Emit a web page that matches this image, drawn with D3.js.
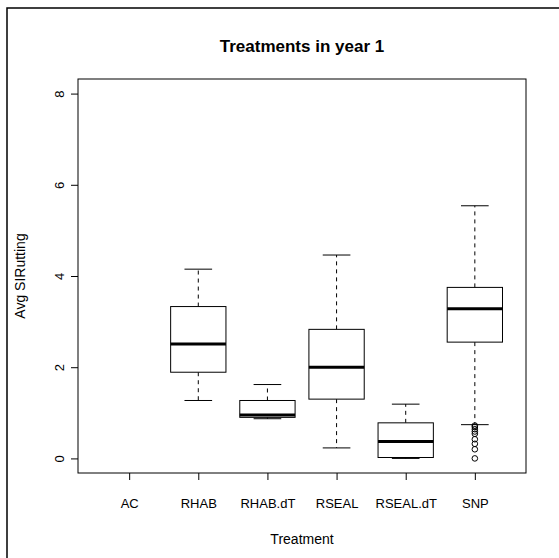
<!DOCTYPE html>
<html>
<head>
<meta charset="utf-8">
<script src="https://d3js.org/d3.v7.min.js"></script>
<style>
  body { margin: 0; background: #fff; }
  text { font-family: "Liberation Sans", Arial, sans-serif; fill: #000; }
</style>
</head>
<body>
<svg id="chart" width="559" height="558"></svg>
<script>
    // values
    const categories = ["AC", "RHAB", "RHAB.dT", "RSEAL", "RSEAL.dT", "SNP"];
    const whiskerLow  = [null, 1.27, 0.87, 0.23, 0.00, 0.74];
    const q1          = [null, 1.89, 0.90, 1.30, 0.02, 2.55];
    const median      = [null, 2.51, 0.95, 2.00, 0.37, 3.28];
    const q3          = [null, 3.33, 1.27, 2.83, 0.78, 3.75];
    const whiskerHigh = [null, 4.15, 1.62, 4.46, 1.19, 5.54];
    const outlierGroup = ["SNP", "SNP", "SNP", "SNP", "SNP", "SNP", "SNP", "SNP", "SNP"];
    const outlierValue = [0.72, 0.69, 0.64, 0.59, 0.54, 0.42, 0.32, 0.20, 0.00];
    const yTicks = [0, 2, 4, 6, 8];

    const LEFT = 78, RIGHT = 526, TOP = 79, BOTTOM = 473;

    const svg = d3.select("#chart");

    // outer frame (only top/left edges visible in the picture)
    svg.append("rect")
        .attr("x", 7).attr("y", 8)
        .attr("width", 600).attr("height", 600)
        .attr("fill", "none").attr("stroke", "#000").attr("stroke-width", 1.5);

    // R style: index 1..n with xlim (0.5, n+0.5) padded by 4%
    const n = categories.length;
    const pad = n * 0.04;
    const x = d3.scaleLinear().domain([0.5 - pad, n + 0.5 + pad]).range([LEFT, RIGHT]);
    const y = d3.scaleLinear().domain([-0.32, 8.32]).range([BOTTOM, TOP]);
    const xi = name => x(categories.indexOf(name) + 1);

    const boxW = (x(1.4) - x(0.6));
    const capW = boxW / 2;

    // axes
    const xAxis = svg.append("g")
        .attr("transform", `translate(0,${BOTTOM})`)
        .call(d3.axisBottom(x).tickValues(d3.range(1, n + 1)).tickFormat(d => categories[d - 1]).tickSize(7).tickPadding(0));
    xAxis.select(".domain").remove();
    xAxis.selectAll("line").attr("stroke", "#000");
    xAxis.selectAll("text")
        .attr("y", 34.5).attr("dy", null)
        .style("font-size", "13px").style("font-family", "Liberation Sans, Arial, sans-serif");

    const yAxis = svg.append("g")
        .attr("transform", `translate(${LEFT},0)`)
        .call(d3.axisLeft(y).tickValues(yTicks).tickSize(7));
    yAxis.select(".domain").remove();
    yAxis.selectAll("line").attr("stroke", "#000");
    yAxis.selectAll("text")
        .attr("x", null).attr("dy", null)
        .attr("transform", "translate(-14.5,0) rotate(-90)")
        .attr("text-anchor", "middle")
        .style("font-size", "13px").style("font-family", "Liberation Sans, Arial, sans-serif");

    // plot frame
    svg.append("rect")
        .attr("x", LEFT).attr("y", TOP)
        .attr("width", RIGHT - LEFT).attr("height", BOTTOM - TOP)
        .attr("fill", "none").attr("stroke", "#000").attr("stroke-width", 1);

    // boxes
    const boxes = categories.map((c, i) => ({
        name: c, lo: whiskerLow[i], q1: q1[i], med: median[i], q3: q3[i], hi: whiskerHigh[i]
    })).filter(d => d.med !== null);

    const g = svg.append("g");
    const b = g.selectAll("g.box").data(boxes).join("g").attr("class", "box");

    b.append("line") // upper whisker
        .attr("x1", d => xi(d.name)).attr("x2", d => xi(d.name))
        .attr("y1", d => y(d.q3)).attr("y2", d => y(d.hi))
        .attr("stroke", "#000").attr("stroke-dasharray", "4,4");
    b.append("line") // lower whisker
        .attr("x1", d => xi(d.name)).attr("x2", d => xi(d.name))
        .attr("y1", d => y(d.q1)).attr("y2", d => y(d.lo))
        .attr("stroke", "#000").attr("stroke-dasharray", "4,4");
    b.append("line")
        .attr("x1", d => xi(d.name) - capW / 2).attr("x2", d => xi(d.name) + capW / 2)
        .attr("y1", d => y(d.hi)).attr("y2", d => y(d.hi))
        .attr("stroke", "#000");
    b.append("line")
        .attr("x1", d => xi(d.name) - capW / 2).attr("x2", d => xi(d.name) + capW / 2)
        .attr("y1", d => y(d.lo)).attr("y2", d => y(d.lo))
        .attr("stroke", "#000");
    b.append("rect")
        .attr("x", d => xi(d.name) - boxW / 2).attr("width", boxW)
        .attr("y", d => y(d.q3)).attr("height", d => y(d.q1) - y(d.q3))
        .attr("fill", "#fff").attr("stroke", "#000");
    b.append("line")
        .attr("x1", d => xi(d.name) - boxW / 2).attr("x2", d => xi(d.name) + boxW / 2)
        .attr("y1", d => y(d.med)).attr("y2", d => y(d.med))
        .attr("stroke", "#000").attr("stroke-width", 3);

    // outliers
    g.selectAll("circle").data(outlierValue).join("circle")
        .attr("cx", (d, i) => xi(outlierGroup[i]))
        .attr("cy", d => y(d))
        .attr("r", 2.8)
        .attr("fill", "none").attr("stroke", "#000");

    // titles
    svg.append("text")
        .attr("x", (LEFT + RIGHT) / 2).attr("y", 52)
        .attr("text-anchor", "middle")
        .style("font-size", "17px").style("font-weight", "bold")
        .text("Treatments in year 1");

    svg.append("text")
        .attr("x", (LEFT + RIGHT) / 2).attr("y", 544)
        .attr("text-anchor", "middle")
        .style("font-size", "14px")
        .text("Treatment");

    svg.append("text")
        .attr("transform", `translate(24.5,${(TOP + BOTTOM) / 2}) rotate(-90)`)
        .attr("text-anchor", "middle")
        .style("font-size", "14px")
        .text("Avg SIRutting");
</script>
</body>
</html>
